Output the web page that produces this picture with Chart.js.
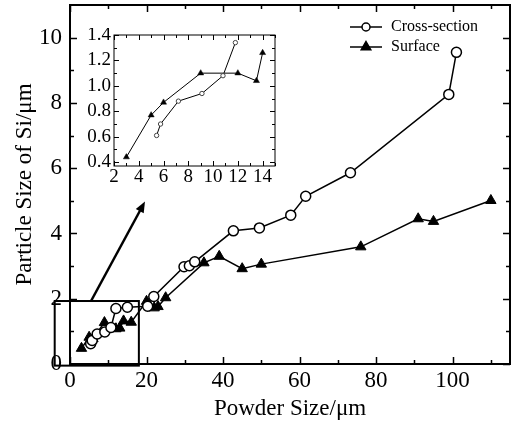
<!DOCTYPE html>
<html>
<head>
<meta charset="utf-8">
<script src="https://cdn.jsdelivr.net/npm/chart.js@4.4.1/dist/chart.umd.min.js"></script>
<style>
  html, body { margin: 0; padding: 0; background: #fff; }
  #wrap { position: relative; width: 511px; height: 423px; }
  #mainChart { position: absolute; left: 0; top: 0; }
  #insetChart { position: absolute; left: 80px; top: 28px; }
</style>
</head>
<body>
<div id="wrap">
  <canvas id="mainChart" width="511" height="423"></canvas>
  <canvas id="insetChart" width="200" height="165"></canvas>
</div>
<script>
// main plot
const crossX = [5.4, 5.8, 7.1, 9.1, 10.7, 12, 15, 20.3, 21.9, 29.8, 31.2, 32.6, 42.7, 49.5, 57.7, 61.6, 73.3, 99, 101];
const crossY = [0.62, 0.72, 0.92, 0.98, 1.12, 1.7, 1.74, 1.77, 2.07, 2.98, 3.01, 3.13, 4.08, 4.17, 4.56, 5.14, 5.86, 8.26, 9.55];
const surfX = [3, 5, 6, 9, 12, 13, 14, 16, 20, 22, 23, 25, 35, 39, 45, 50, 76, 91, 95, 110];
const surfY = [0.48, 0.82, 0.78, 1.27, 1.08, 1.1, 1.32, 1.28, 1.92, 1.72, 1.76, 2.03, 3.1, 3.3, 2.92, 3.06, 3.59, 4.45, 4.37, 5.01];
const xTicks = [0, 20, 40, 60, 80, 100];
const xMinor = [10, 30, 50, 70, 90, 110];
const yTicks = [0, 2, 4, 6, 8, 10];
const yMinor = [1, 3, 5, 7, 9];

// inset (zoom of 2-15 um)
const inCrossX = [5.44, 5.76, 7.2, 9.1, 10.8, 11.8];
const inCrossY = [0.61, 0.70, 0.88, 0.94, 1.08, 1.34];
const inSurfX = [3, 5, 6, 9, 12, 13.5, 14];
const inSurfY = [0.44, 0.77, 0.87, 1.10, 1.10, 1.04, 1.26];
const inXTicks = [2, 4, 6, 8, 10, 12, 14];
const inXMinor = [3, 5, 7, 9, 11, 13, 15];
const inYTicks = [0.4, 0.6, 0.8, 1.0, 1.2, 1.4];
const inYMinor = [0.5, 0.7, 0.9, 1.1, 1.3];

const seriesNames = ["Cross-section", "Surface"];

const SERIF = '"Liberation Serif", "Times New Roman", serif';
Chart.defaults.font.family = SERIF;
Chart.defaults.color = "#000";

function toPoints(xs, ys) {
  return xs.map((x, i) => ({ x: x, y: ys[i] }));
}

// fixed axis size, no extra room for overhanging labels
function fixSize(prop, size) {
  return (s) => {
    s[prop] = size;
    s.paddingTop = 0; s.paddingBottom = 0;
    s.paddingLeft = 0; s.paddingRight = 0;
  };
}

// frame on all four sides with inward ticks
function frameTicks(o) {
  return {
    id: "frameTicks",
    afterDraw(chart) {
      const { ctx, chartArea: a, scales } = chart;
      const x = scales.x, y = scales.y;
      ctx.save();
      ctx.strokeStyle = "#000";
      ctx.lineWidth = o.tickWidth;
      ctx.beginPath();
      const xs = (vals, len) => vals.forEach((v) => {
        const p = Math.round(x.getPixelForValue(v)) + 0.5;
        ctx.moveTo(p, a.bottom); ctx.lineTo(p, a.bottom - len);
        ctx.moveTo(p, a.top); ctx.lineTo(p, a.top + len);
      });
      const ys = (vals, len) => vals.forEach((v) => {
        const p = Math.round(y.getPixelForValue(v)) + 0.5;
        ctx.moveTo(a.left, p); ctx.lineTo(a.left + len, p);
        ctx.moveTo(a.right, p); ctx.lineTo(a.right - len, p);
      });
      xs(o.xMajor, o.major); xs(o.xMinor, o.minor);
      ys(o.yMajor, o.major); ys(o.yMinor, o.minor);
      ctx.stroke();
      ctx.lineWidth = o.frame;
      ctx.strokeRect(a.left, a.top, a.right - a.left, a.bottom - a.top);
      ctx.restore();
    }
  };
}

// zoom box, arrow and legend on the main plot
const extras = {
  id: "extras",
  afterDraw(chart) {
    const { ctx, scales: { x, y } } = chart;
    ctx.save();
    ctx.strokeStyle = "#000";
    ctx.fillStyle = "#000";

    // box round the zoomed region
    ctx.lineWidth = 2;
    const bx0 = x.getPixelForValue(-4), bx1 = x.getPixelForValue(18);
    const by0 = y.getPixelForValue(1.93), by1 = y.getPixelForValue(-0.05);
    ctx.strokeRect(bx0, by0, bx1 - bx0, by1 - by0);

    // arrow to the inset
    const ax0 = x.getPixelForValue(5.5), ay0 = y.getPixelForValue(1.93);
    const ax1 = x.getPixelForValue(19.6), ay1 = y.getPixelForValue(4.98);
    const ang = Math.atan2(ay1 - ay0, ax1 - ax0);
    ctx.lineWidth = 2.5;
    ctx.beginPath();
    ctx.moveTo(ax0, ay0);
    ctx.lineTo(ax1 - 8 * Math.cos(ang), ay1 - 8 * Math.sin(ang));
    ctx.stroke();
    ctx.beginPath();
    ctx.moveTo(ax1, ay1);
    ctx.lineTo(ax1 - 11 * Math.cos(ang) + 4.5 * Math.sin(ang), ay1 - 11 * Math.sin(ang) - 4.5 * Math.cos(ang));
    ctx.lineTo(ax1 - 11 * Math.cos(ang) - 4.5 * Math.sin(ang), ay1 - 11 * Math.sin(ang) + 4.5 * Math.cos(ang));
    ctx.closePath();
    ctx.fill();

    // legend
    const rows = [27, 47];
    ctx.font = "16px " + SERIF;
    ctx.textBaseline = "middle";
    chart.data.datasets.forEach((ds, i) => {
      const ly = rows[i];
      ctx.lineWidth = 1.5;
      ctx.strokeStyle = "#000";
      ctx.beginPath();
      ctx.moveTo(350, ly); ctx.lineTo(382, ly);
      ctx.stroke();
      ctx.fillStyle = ds.pointBackgroundColor;
      ctx.beginPath();
      if (ds.pointStyle === "circle") {
        ctx.arc(366, ly, 4, 0, Math.PI * 2);
      } else {
        ctx.moveTo(366, ly - 5.5);
        ctx.lineTo(366 + 5.5 * 0.866, ly + 2.75);
        ctx.lineTo(366 - 5.5 * 0.866, ly + 2.75);
        ctx.closePath();
      }
      ctx.fill();
      ctx.stroke();
      ctx.fillStyle = "#000";
      ctx.fillText(ds.label, 391, ly);
    });
    ctx.restore();
  }
};

new Chart(document.getElementById("mainChart"), {
  type: "line",
  data: {
    datasets: [
      {
        label: seriesNames[0],
        data: toPoints(crossX, crossY),
        borderColor: "#000",
        borderWidth: 1.5,
        pointStyle: "circle",
        pointRadius: 5,
        pointBorderWidth: 1.5,
        pointBackgroundColor: "#fff",
        pointBorderColor: "#000"
      },
      {
        label: seriesNames[1],
        data: toPoints(surfX, surfY),
        borderColor: "#000",
        borderWidth: 1.5,
        pointStyle: "triangle",
        pointRadius: 6,
        pointBorderWidth: 1,
        pointBackgroundColor: "#000",
        pointBorderColor: "#000"
      }
    ]
  },
  options: {
    responsive: false,
    animation: false,
    layout: { autoPadding: false, padding: { top: 5, right: 1, left: 0, bottom: 0 } },
    plugins: { legend: { display: false }, tooltip: { enabled: false } },
    scales: {
      x: {
        type: "linear",
        min: 0,
        max: 115,
        grid: { display: false, drawTicks: false },
        border: { display: false },
        afterBuildTicks: (s) => { s.ticks = xTicks.map((v) => ({ value: v })); },
        afterFit: fixSize("height", 59),
        ticks: { font: { size: 23 }, padding: 3, maxRotation: 0, autoSkip: false },
        title: { display: true, text: "Powder Size/μm", font: { size: 23 }, padding: { top: 0, bottom: 0 } }
      },
      y: {
        type: "linear",
        min: 0,
        max: 11,
        grid: { display: false, drawTicks: false },
        border: { display: false },
        afterBuildTicks: (s) => { s.ticks = yTicks.map((v) => ({ value: v })); },
        afterFit: fixSize("width", 70),
        ticks: { font: { size: 23 }, padding: 8, autoSkip: false },
        title: { display: true, text: "Particle Size of Si/μm", font: { size: 23 }, padding: { top: 11, bottom: 0 } }
      }
    }
  },
  plugins: [
    frameTicks({ xMajor: xTicks, xMinor: xMinor, yMajor: yTicks, yMinor: yMinor, major: 7, minor: 4, tickWidth: 1.5, frame: 2 }),
    extras
  ]
});

new Chart(document.getElementById("insetChart"), {
  type: "line",
  data: {
    datasets: [
      {
        label: seriesNames[0],
        data: toPoints(inCrossX, inCrossY),
        borderColor: "#000",
        borderWidth: 1,
        pointStyle: "circle",
        pointRadius: 2.2,
        pointBorderWidth: 1,
        pointBackgroundColor: "#fff",
        pointBorderColor: "#444"
      },
      {
        label: seriesNames[1],
        data: toPoints(inSurfX, inSurfY),
        borderColor: "#000",
        borderWidth: 1,
        pointStyle: "triangle",
        pointRadius: 3.5,
        pointBorderWidth: 0.5,
        pointBackgroundColor: "#000",
        pointBorderColor: "#000"
      }
    ]
  },
  options: {
    responsive: false,
    animation: false,
    layout: { autoPadding: false, padding: { top: 7, right: 5, left: 0, bottom: 0 } },
    plugins: { legend: { display: false }, tooltip: { enabled: false } },
    scales: {
      x: {
        type: "linear",
        min: 2,
        max: 15,
        grid: { display: false, drawTicks: false },
        border: { display: false },
        afterBuildTicks: (s) => { s.ticks = inXTicks.map((v) => ({ value: v })); },
        afterFit: fixSize("height", 27),
        ticks: { font: { size: 19 }, padding: 0, maxRotation: 0, autoSkip: false }
      },
      y: {
        type: "linear",
        min: 0.37,
        max: 1.4,
        grid: { display: false, drawTicks: false },
        border: { display: false },
        afterBuildTicks: (s) => { s.ticks = inYTicks.map((v) => ({ value: v })); },
        afterFit: fixSize("width", 34),
        ticks: { font: { size: 19 }, padding: 3, autoSkip: false, callback: (v) => v.toFixed(1) }
      }
    }
  },
  plugins: [
    frameTicks({ xMajor: inXTicks, xMinor: inXMinor, yMajor: inYTicks, yMinor: inYMinor, major: 5, minor: 3, tickWidth: 1, frame: 1 })
  ]
});
</script>
</body>
</html>
